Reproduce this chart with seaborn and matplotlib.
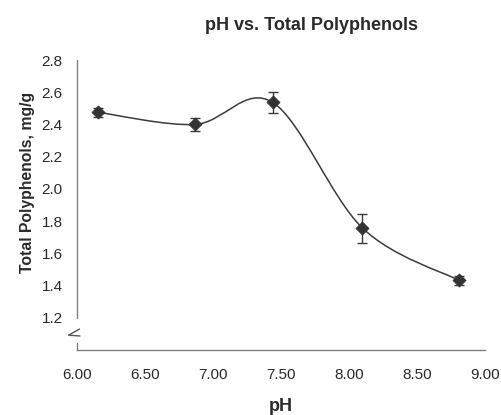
import numpy as np
import matplotlib
matplotlib.use("Agg")
import matplotlib.pyplot as plt
from matplotlib.path import Path
from matplotlib.patches import PathPatch
import seaborn as sns

# values
ph = [6.16, 6.87, 7.44, 8.10, 8.81]
polyphenols = [2.475, 2.40, 2.537, 1.757, 1.432]
errors = [0.03, 0.04, 0.064, 0.09, 0.03]
xticks = [6.0, 6.5, 7.0, 7.5, 8.0, 8.5, 9.0]
yticks = [1.2, 1.4, 1.6, 1.8, 2.0, 2.2, 2.4, 2.6, 2.8]

sns.set_style("white")
plt.rcParams['font.family'] = ['Liberation Sans', 'DejaVu Sans']

LINE = "#3c3c3c"
SPINE = "#808080"
TEXT = "#2a2a2a"


def smooth_path(x, y):
    """Excel-like smoothed line: cubic Bezier through the points."""
    pts = np.column_stack([x, y])
    n = len(pts)
    verts = [pts[0]]
    codes = [Path.MOVETO]
    for i in range(n - 1):
        p0 = pts[max(i - 1, 0)]
        p1 = pts[i]
        p2 = pts[i + 1]
        p3 = pts[min(i + 2, n - 1)]
        verts += [p1 + (p2 - p0) / 6, p2 - (p3 - p1) / 6, p2]
        codes += [Path.CURVE4] * 3
    return Path(verts, codes)


fig = plt.figure(figsize=(5.01, 4.15), dpi=100)
ax = fig.add_axes([0.153, 0.1566, 0.815, 0.6988])

ax.add_patch(PathPatch(smooth_path(ph, polyphenols), facecolor="none",
                       edgecolor=LINE, lw=1.1, zorder=2))
ax.errorbar(ph, polyphenols, yerr=errors, fmt="none", ecolor=LINE,
            elinewidth=1.0, capsize=3.5, capthick=1.0, zorder=3)
sns.scatterplot(x=ph, y=polyphenols, marker="D", s=45, color="#333333",
                edgecolor="#333333", linewidth=0.5, ax=ax, zorder=4)

ax.set_xlim(6.0, 9.0)
ax.set_ylim(1.0, 2.8)
ax.set_xticks(xticks)
ax.set_xticklabels(["%.2f" % v for v in xticks])
ax.set_yticks(yticks)
ax.set_yticklabels(["%.1f" % v for v in yticks])
ax.tick_params(direction="in", length=3, width=1, color=SPINE,
               labelsize=11, labelcolor=TEXT, pad=10)
ax.tick_params(axis="x", pad=13)

for side in ["top", "right", "left"]:
    ax.spines[side].set_visible(False)
ax.spines["bottom"].set_color(SPINE)
ax.spines["bottom"].set_linewidth(1)

# broken left axis
yax = ax.get_yaxis_transform()
ax.plot([0, 0], [1.2, 2.8], color=SPINE, lw=1, transform=yax, clip_on=False)
ax.plot([0, 0], [1.0, 1.045], color=SPINE, lw=1, transform=yax, clip_on=False)
ax.plot([0.007, -0.020, 0.008], [1.13, 1.092, 1.087], color="#555555", lw=1,
        transform=yax, clip_on=False)

ax.set_xlabel("pH", fontsize=13, fontweight="bold", color=TEXT)
ax.xaxis.set_label_coords(0.5, -0.165)
fig.text(0.054, 0.56, "Total Polyphenols, mg/g", rotation=90, fontsize=11.3,
         fontweight="bold", color=TEXT, ha="center", va="center")
fig.text(0.622, 0.938, "pH vs. Total Polyphenols", fontsize=13,
         fontweight="bold", color=TEXT, ha="center", va="center")

fig.savefig("out.png", dpi=100)
